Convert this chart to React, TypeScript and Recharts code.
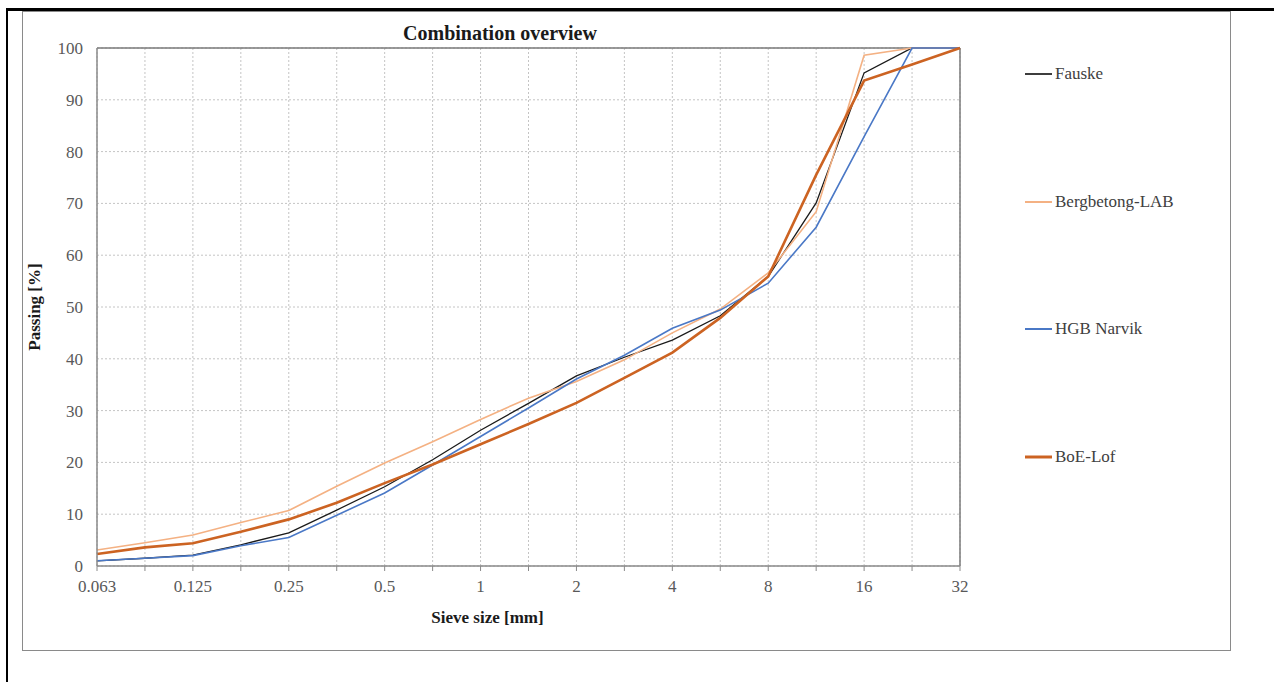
import React from 'react';
import { LineChart, Line, XAxis, YAxis, CartesianGrid, Legend, ReferenceLine, Label } from 'recharts';

// Sieve sizes (category axis, equally spaced as in the original)
const SIEVE_SIZES = ['0.063', '0.09', '0.125', '0.18', '0.25', '0.355', '0.5', '0.71', '1', '1.4', '2', '2.8', '4', '5.6', '8', '11.2', '16', '22.4', '32'];
const TICK_LABELS = ['0.063', '0.125', '0.25', '0.5', '1', '2', '4', '8', '16', '32'];
const Y_TICKS = [0, 10, 20, 30, 40, 50, 60, 70, 80, 90, 100];

// Passing [%] per series
const FAUSKE = [1.0, 1.5, 2.1, 4.1, 6.4, 10.8, 15.3, 20.5, 26.2, 31.4, 36.7, 40.3, 43.6, 48.3, 55.9, 70.1, 95.2, 100, 100];
const BERGBETONG_LAB = [3.1, 4.5, 6.0, 8.4, 10.7, 15.4, 19.9, 24.0, 28.3, 32.4, 35.6, 39.8, 45.0, 49.6, 56.6, 68.4, 98.6, 100, 100];
const HGB_NARVIK = [1.0, 1.5, 2.0, 3.9, 5.5, 9.8, 14.1, 19.5, 25.0, 30.5, 36.1, 40.7, 45.9, 49.4, 54.6, 65.4, 82.9, 100, 100];
const BOE_LOF = [2.3, 3.6, 4.4, 6.6, 9.0, 12.2, 16.0, 19.6, 23.5, 27.4, 31.5, 36.3, 41.2, 47.9, 55.9, 75.5, 93.7, 96.8, 100];

const SERIES = [
  { key: 'fauske', name: 'Fauske', color: '#1a1a1a', width: 1.3 },
  { key: 'berg', name: 'Bergbetong-LAB', color: '#F4B183', width: 1.6 },
  { key: 'hgb', name: 'HGB Narvik', color: '#4A78C6', width: 1.6 },
  { key: 'boe', name: 'BoE-Lof', color: '#CC6322', width: 2.6 },
];

const data = SIEVE_SIZES.map((s, i) => ({
  size: s,
  fauske: FAUSKE[i],
  berg: BERGBETONG_LAB[i],
  hgb: HGB_NARVIK[i],
  boe: BOE_LOF[i],
}));

const FONT = '"Liberation Serif", "Times New Roman", serif';

const renderLegend = () => {
  return (
    <div style={{ position: 'relative', width: 220, height: 420, fontFamily: FONT }}>
      {SERIES.map((s, i) => (
        <div key={s.key} style={{ position: 'absolute', left: 0, top: 14 + i * 127.7 - 10, height: 20, width: 220 }}>
          <svg width={32} height={20} style={{ position: 'absolute', left: 5, top: 0 }}>
            <line x1={0} y1={10} x2={27} y2={10} stroke={s.color} strokeWidth={s.width + 0.4} />
          </svg>
          <span style={{ position: 'absolute', left: 35, top: 0, lineHeight: '20px', fontSize: 17, color: '#404040', whiteSpace: 'nowrap' }}>
            {s.name}
          </span>
        </div>
      ))}
    </div>
  );
};

export default function App() {
  return (
    <div style={{ position: 'absolute', left: 0, top: 0, width: 1274, height: 682, background: '#fff', overflow: 'hidden' }}>
      {/* outer black border (table cell) */}
      <div style={{ position: 'absolute', left: 6, top: 8, width: 1268, height: 3, background: '#000' }} />
      <div style={{ position: 'absolute', left: 6, top: 8, width: 2, height: 674, background: '#000' }} />
      {/* chart frame */}
      <div style={{ position: 'absolute', left: 22, top: 11, width: 1207, height: 638, border: '1px solid #8a8a8a' }} />
      {/* title */}
      <div style={{ position: 'absolute', left: 300, top: 21, width: 400, textAlign: 'center', fontFamily: FONT, fontWeight: 'bold', fontSize: 20, color: '#1a1a1a', lineHeight: '24px' }}>
        Combination overview
      </div>
      <div style={{ position: 'absolute', left: 0, top: 0 }}>
        <LineChart width={1274} height={682} data={data} margin={{ top: 48, right: 314, bottom: 76, left: 37 }}>
          <CartesianGrid stroke="#c4c4c4" strokeDasharray="2 2" />
          <XAxis
            dataKey="size"
            type="category"
            interval={0}
            height={40}
            tickFormatter={(v: string) => (TICK_LABELS.includes(v) ? v : '')}
            tick={{ fontFamily: FONT, fontSize: 17, fill: '#595959' }}
            tickSize={5}
            tickMargin={9}
            tickLine={{ stroke: '#8a8a8a' }}
            axisLine={{ stroke: '#8a8a8a', strokeWidth: 1.5 }}
          >
            <Label value="Sieve size [mm]" position="bottom" offset={5} dx={-41} style={{ fontFamily: FONT, fontSize: 17, fontWeight: 'bold', fill: '#1a1a1a' }} />
          </XAxis>
          <YAxis
            type="number"
            domain={[0, 100]}
            ticks={Y_TICKS}
            width={60}
            tick={{ fontFamily: FONT, fontSize: 17, fill: '#595959' }}
            tickLine={false}
            tickSize={6}
            tickMargin={8}
            axisLine={{ stroke: '#8a8a8a', strokeWidth: 1.5 }}
          >
            <Label value="Passing [%]" angle={-90} position="insideLeft" offset={-3} style={{ fontFamily: FONT, fontSize: 17, fontWeight: 'bold', fill: '#1a1a1a', textAnchor: 'middle' }} />
          </YAxis>
          <ReferenceLine y={100} stroke="#7a7a7a" strokeWidth={1.5} />
          <ReferenceLine x="32" stroke="#7a7a7a" strokeWidth={1.5} />
          {SERIES.map((s) => (
            <Line
              key={s.key}
              type="linear"
              dataKey={s.key}
              name={s.name}
              stroke={s.color}
              strokeWidth={s.width}
              dot={false}
              activeDot={false}
              isAnimationActive={false}
            />
          ))}
          <Legend
            layout="vertical"
            align="center"
            verticalAlign="middle"
            wrapperStyle={{ left: 1020, top: 60, width: 220, height: 420 }}
            content={renderLegend}
          />
        </LineChart>
      </div>
    </div>
  );
}
